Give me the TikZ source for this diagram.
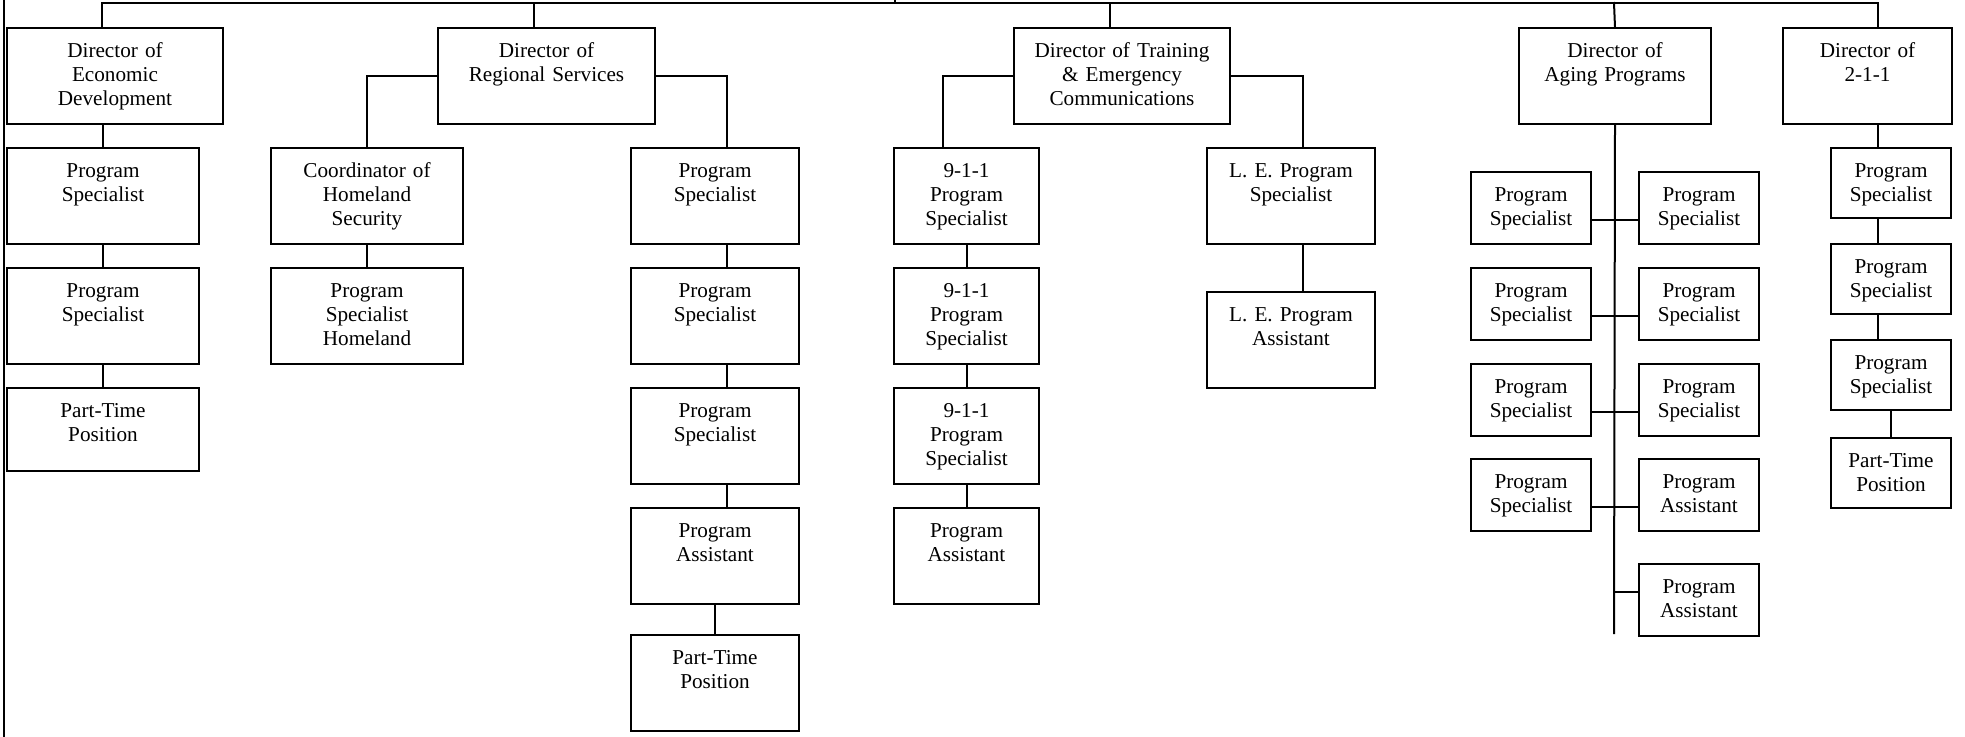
\documentclass[tikz,border=0pt]{standalone}
\usepackage{fontspec}
\setmainfont{Liberation Serif}
\usepackage{tikz}
\usetikzlibrary{positioning, calc}
\newcommand{\postfont}{\fontsize{10.6pt}{12pt}\selectfont}
\tikzset{
    post/.style={rectangle, draw=black, line width=1pt, align=center, inner sep=0pt, anchor=north west, text height=14.75pt, font=\postfont},
    tall/.style={text depth=33.25pt},
    short/.style={text depth=26.75pt},
    small/.style={text depth=21.25pt},
    smaller/.style={text depth=20.25pt},
    link/.style={line width=1pt, line cap=rect}
}

\begin{document}
\begin{tikzpicture}[x=0.5pt, y=-0.5pt]
    \useasboundingbox (0,0) rectangle (1965,736);

    % Directors
    \node[post, tall, text width=108pt] (edDir) at (6,27) {Director of\\Economic\\Development};
    \node[post, tall, text width=108.5pt] (rsDir) at (437,27) {Director of\\Regional Services};
    \node[post, tall, text width=108pt] (teDir) at (1013,27) {Director of Training\\\& Emergency\\Communications};
    \node[post, tall, text width=96pt] (agDir) at (1518,27) {Director of\\Aging Programs};
    \node[post, tall, text width=84.5pt] (tooDir) at (1782,27) {Director of\\2-1-1};

    % Economic Development
    \node[post, tall, text width=96pt] (edPs1) at (6,147) {Program\\Specialist};
    \node[post, tall, text width=96pt] (edPs2) at (6,267) {Program\\Specialist};
    \node[post, short, text width=96pt] (edPt) at (6,387) {Part-Time\\Position};

    % Regional Services
    \node[post, tall, text width=96pt] (coord) at (270,147) {Coordinator of\\Homeland\\Security};
    \node[post, tall, text width=96pt] (psHome) at (270,267) {Program\\Specialist\\Homeland};
    \node[post, tall, text width=84pt] (rsPs1) at (630,147) {Program\\Specialist};
    \node[post, tall, text width=84pt] (rsPs2) at (630,267) {Program\\Specialist};
    \node[post, tall, text width=84pt] (rsPs3) at (630,387) {Program\\Specialist};
    \node[post, tall, text width=84pt] (rsPa) at (630,507) {Program\\Assistant};
    \node[post, tall, text width=84pt] (rsPt) at (630,634) {Part-Time\\Position};

    % Training & Emergency Communications
    \node[post, tall, text width=72.5pt] (nine1) at (893,147) {9-1-1\\Program\\Specialist};
    \node[post, tall, text width=72.5pt] (nine2) at (893,267) {9-1-1\\Program\\Specialist};
    \node[post, tall, text width=72.5pt] (nine3) at (893,387) {9-1-1\\Program\\Specialist};
    \node[post, tall, text width=72.5pt] (ninePa) at (893,507) {Program\\Assistant};
    \node[post, tall, text width=84pt] (le1) at (1206,147) {L. E. Program\\Specialist};
    \node[post, tall, text width=84pt] (le2) at (1206,291) {L. E. Program\\Assistant};

    % Aging Programs
    \node[post, small, text width=60pt] (agL1) at (1470,171) {Program\\Specialist};
    \node[post, small, text width=60pt] (agR1) at (1638,171) {Program\\Specialist};
    \node[post, small, text width=60pt] (agL2) at (1470,267) {Program\\Specialist};
    \node[post, small, text width=60pt] (agR2) at (1638,267) {Program\\Specialist};
    \node[post, small, text width=60pt] (agL3) at (1470,363) {Program\\Specialist};
    \node[post, small, text width=60pt] (agR3) at (1638,363) {Program\\Specialist};
    \node[post, small, text width=60pt] (agL4) at (1470,458) {Program\\Specialist};
    \node[post, small, text width=60pt] (agR4) at (1638,458) {Program\\Assistant};
    \node[post, small, text width=60pt] (agR5) at (1638,563) {Program\\Assistant};

    % 2-1-1
    \node[post, smaller, text width=60pt] (tooPs1) at (1830,147) {Program\\Specialist};
    \node[post, smaller, text width=60pt] (tooPs2) at (1830,243) {Program\\Specialist};
    \node[post, smaller, text width=60pt] (tooPs3) at (1830,339) {Program\\Specialist};
    \node[post, smaller, text width=60pt] (tooPt) at (1830,437) {Part-Time\\Position};

    % Bus
    \coordinate (busEd) at (102,3);
    \coordinate (busRs) at (534,3);
    \coordinate (busUp) at (895,3);
    \coordinate (busTe) at (1110,3);
    \coordinate (busAg) at (1614,3);
    \coordinate (busToo) at (1877.6,3);
    \coordinate (topOut) at (895,-4);
    \coordinate (sideTop) at (4,-4);
    \coordinate (sideBot) at (4,740);
    \coordinate (spineEnd) at (1614,633);

    \draw[link] (busEd) -- (busToo);
    \draw[link] (busUp) -- (topOut);
    \draw[link] (sideTop) -- (sideBot);
    \draw[link] (busEd) -- (busEd |- edDir.north);
    \draw[link] (busRs) -- (busRs |- rsDir.north);
    \draw[link] (busTe) -- (busTe |- teDir.north);
    \draw[link] (busAg) -- (agDir.north);
    \draw[link] (busToo) -- (busToo |- tooDir.north);

    % Arrows
    \draw[link] (edDir.south -| edPs1.north) -- (edPs1.north);
    \draw[link] (edPs1) -- (edPs2);
    \draw[link] (edPs2) -- (edPt);

    \draw[link] (rsDir.west) -| (coord.north);
    \draw[link] (coord) -- (psHome);
    \draw[link] (rsDir.east) -| ([xshift=6pt]rsPs1.north);
    \draw[link] ([xshift=6pt]rsPs1.south) -- ([xshift=6pt]rsPs2.north);
    \draw[link] ([xshift=6pt]rsPs2.south) -- ([xshift=6pt]rsPs3.north);
    \draw[link] ([xshift=6pt]rsPs3.south) -- ([xshift=6pt]rsPa.north);
    \draw[link] (rsPa) -- (rsPt);

    \draw[link] (teDir.west) -| ([xshift=-11.75pt]nine1.north);
    \draw[link] (nine1) -- (nine2);
    \draw[link] (nine2) -- (nine3);
    \draw[link] (nine3) -- (ninePa);
    \draw[link] (teDir.east) -| ([xshift=6pt]le1.north);
    \draw[link] ([xshift=6pt]le1.south) -- ([xshift=6pt]le2.north);

    \draw[link] (agDir.south) -- (spineEnd);
    \foreach \r in {1,...,4}
        \draw[link] ([yshift=-6pt]agL\r.east) -- ([yshift=-6pt]agR\r.west);
    \draw[link] ([yshift=4pt]agR5.west) -- ([yshift=4pt]agR5.west -| agDir.south);

    \draw[link] (tooDir.south -| busToo) -- (tooPs1.north -| busToo);
    \draw[link] (tooPs1.south -| busToo) -- (tooPs2.north -| busToo);
    \draw[link] (tooPs2.south -| busToo) -- (tooPs3.north -| busToo);
    \draw[link] (tooPs3) -- (tooPt);
\end{tikzpicture}
\end{document}
